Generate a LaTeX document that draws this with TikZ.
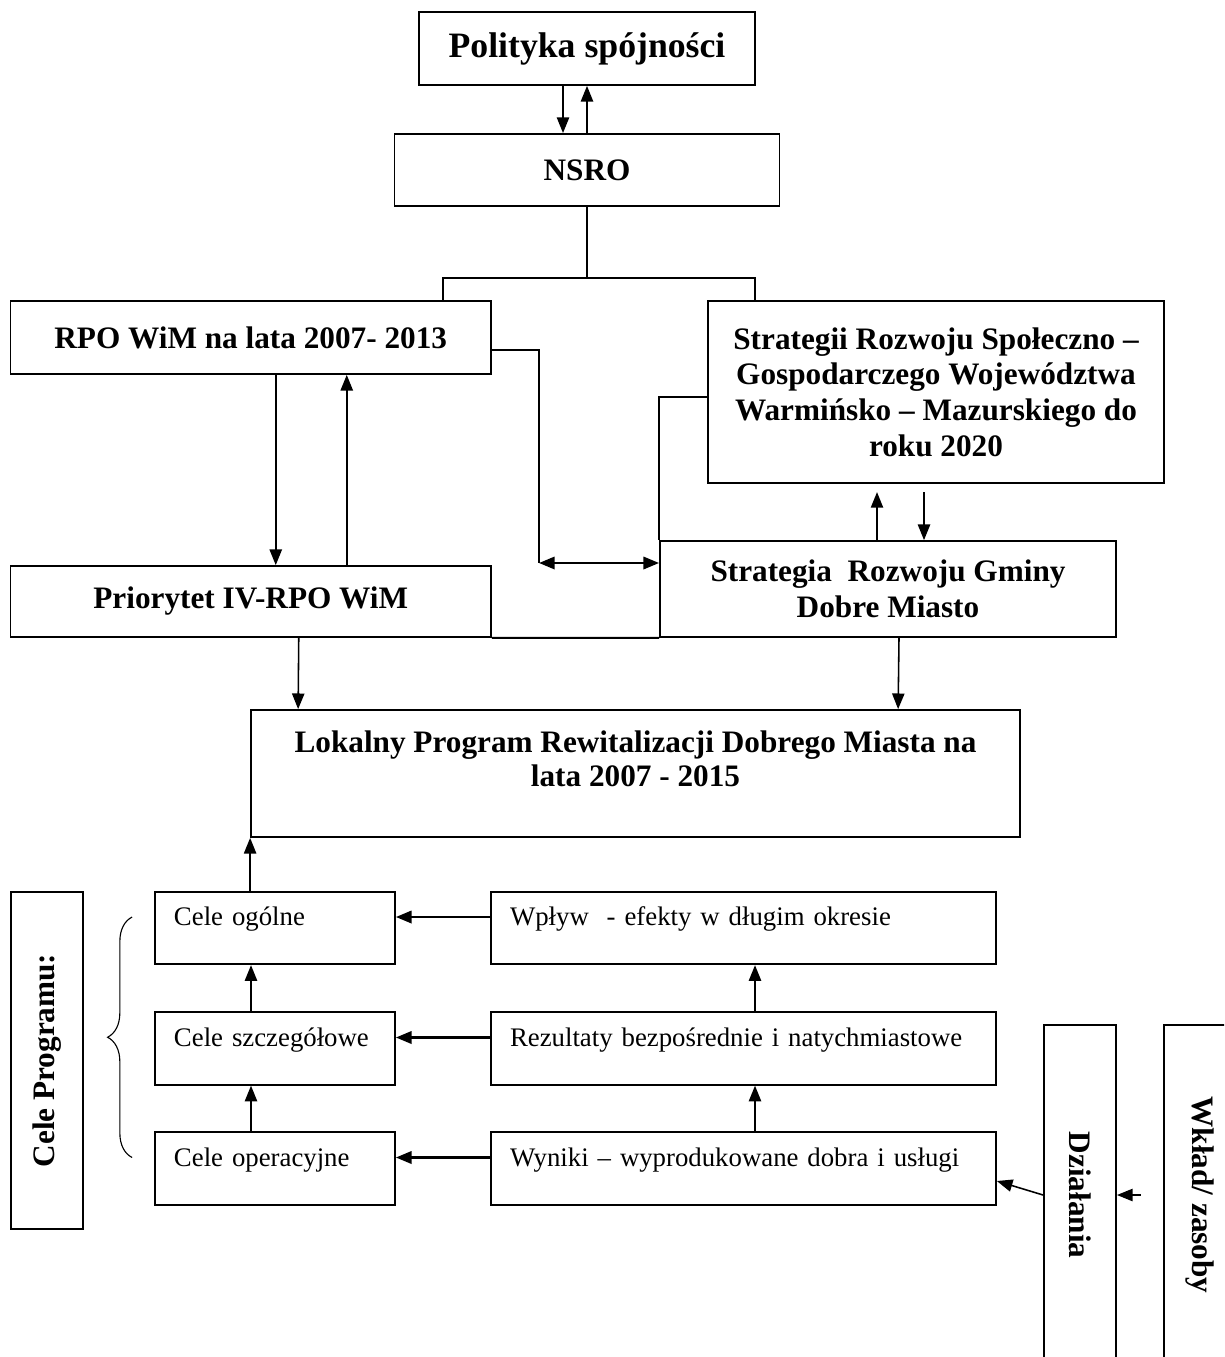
\documentclass[tikz,border=0pt]{standalone}
\usepackage{fontspec}
\setmainfont{Liberation Serif}
\usetikzlibrary{arrows.meta,calc,decorations.pathreplacing}

\begin{document}
\begin{tikzpicture}[x=0.448pt, y=-0.448pt, line width=0.7pt,
	>={Triangle[length=7pt,width=5.5pt]},
	every node/.style={draw, line width=0.8pt, inner sep=0pt, font=\fontsize{14}{16}\selectfont\bfseries},
	cel/.style={align=left, text width=#1, inner xsep=8.5pt, text height=15.2pt, text depth=17.3pt, font=\fontsize{12}{14}\selectfont},
	wide/.style={line width=1.1pt},
	klamra/.style={decorate, decoration={brace, amplitude=11pt}, line width=0.5pt}]
	
	\clip (0,0) rectangle (1224,1357);
	
	\node[minimum width=150.5pt, minimum height=32.7pt, font=\fontsize{16}{18}\selectfont\bfseries] (1) at (587,48.5) {Polityka spójności};
	\node[minimum width=172.5pt, minimum height=32.3pt] (2) at (587,170) {NSRO};
	\node[minimum width=215.3pt, minimum height=32.7pt] (3) at (250.75,337.5) {RPO WiM na lata 2007- 2013};
	\node[minimum width=204.3pt, minimum height=81.5pt, align=center] (4) at (936,392) {Strategii Rozwoju Społeczno –\\ Gospodarczego Województwa\\ Warmińsko – Mazurskiego do\\ roku 2020};
	\node[minimum width=215.3pt, minimum height=31.8pt] (5) at (250.75,601.5) {Priorytet IV-RPO WiM};
	\node[minimum width=204.3pt, minimum height=43pt, align=center] (6) at (888,589) {Strategia\ \ Rozwoju Gminy\\ Dobre Miasto};
	\node[font=\fontsize{14}{15.2}\selectfont\bfseries] (7) at (635.5,773.5) {\parbox[c][56.9pt][t]{344.5pt}{\centering\vspace*{9.5pt}Lokalny Program Rewitalizacji Dobrego Miasta na\\ lata 2007 - 2015}};
	
	\node[cel=90.5pt] (8) at (275,928) {Cele ogólne};
	\node[cel=90.5pt] (9) at (275,1048.5) {Cele szczegółowe};
	\node[cel=90.5pt] (10) at (275,1168.5) {Cele operacyjne};
	\node[cel=209.2pt] (11) at (743.5,928) {Wpływ\ \ - efekty w długim okresie};
	\node[cel=209.2pt] (12) at (743.5,1048.5) {Rezultaty bezpośrednie i natychmiastowe};
	\node[cel=209.2pt] (13) at (743.5,1168.5) {Wyniki – wyprodukowane dobra i usługi};
	
	\node[rotate=90, minimum width=151pt, minimum height=32.3pt] (14) at (47,1060.5) {Cele Programu:};
	\node[rotate=-90, minimum width=152.3pt, minimum height=32.3pt] (15) at (1080,1195) {Działania};
	\node[rotate=-90, minimum width=152.3pt, minimum height=32.3pt] (16) at (1200,1195) {Wkład/ zasoby};
	
	\coordinate (17) at (587,278);
	\coordinate (18) at (539,563);
	
	\draw[->] ($(1.south)+(-24,0)$) -- ($(2.north)+(-24,0)$);
	\draw[->] (2.north) -- (1.south);
	\draw (2.south) -- (17);
	\draw ($(3.north)+(192,0)$) |- (17) -| ($(4.north)+(-181,0)$);
	
	\draw[->] ($(3.south)+(25,0)$) -- ($(5.north)+(25,0)$);
	\draw[->] ($(5.north)+(96,0)$) -- ($(3.south)+(96,0)$);
	\draw ($(3.east)+(0,12.5)$) -| (18);
	\draw[<->, wide] (18) -- (18 -| 6.west);
	\draw ($(4.west)+(0,5)$) -| (6.north west);
	\draw[->] ($(6.north)+(-11,0)$) -- ++(0,-48);
	\draw[->] ($(6.north)+(36,-48)$) -- ($(6.north)+(36,0)$);
	
	\draw[line width=0.8pt] (5.south east) -- (6.south west);
	\draw[->] ($(5.south)+(48,0)$) -- ($(7.north west)+(48,0)$);
	\draw[->] ($(6.south)+(11,0)$) -- ($(7.north west)+(648,0)$);
	
	\draw[->] (8.north -| 7.west) -- (7.south west);
	\draw[->] ($(9.north)+(-24,0)$) -- ($(8.south)+(-24,0)$);
	\draw[->] ($(10.north)+(-24,0)$) -- ($(9.south)+(-24,0)$);
	\draw[->] ($(12.north)+(11.5,0)$) -- ($(11.south)+(11.5,0)$);
	\draw[->] ($(13.north)+(11.5,0)$) -- ($(12.south)+(11.5,0)$);
	\draw[->, wide] ($(11.west)+(0,-11)$) -- ($(8.east)+(0,-11)$);
	\draw[->, wide] ($(12.west)+(0,-11)$) -- ($(9.east)+(0,-11)$);
	\draw[->, wide] ($(13.west)+(0,-11)$) -- ($(10.east)+(0,-11)$);
	
	\draw[klamra] ($(10.west)+(-22,-11)$) -- ($(8.west)+(-22,-11)$);
	
	\draw[->] (15.south) -- ($(13.east)+(0,12.5)$);
	\draw[->] ($(15.north)+(24,0)$) -- (15.north);
	
\end{tikzpicture}
\end{document}
